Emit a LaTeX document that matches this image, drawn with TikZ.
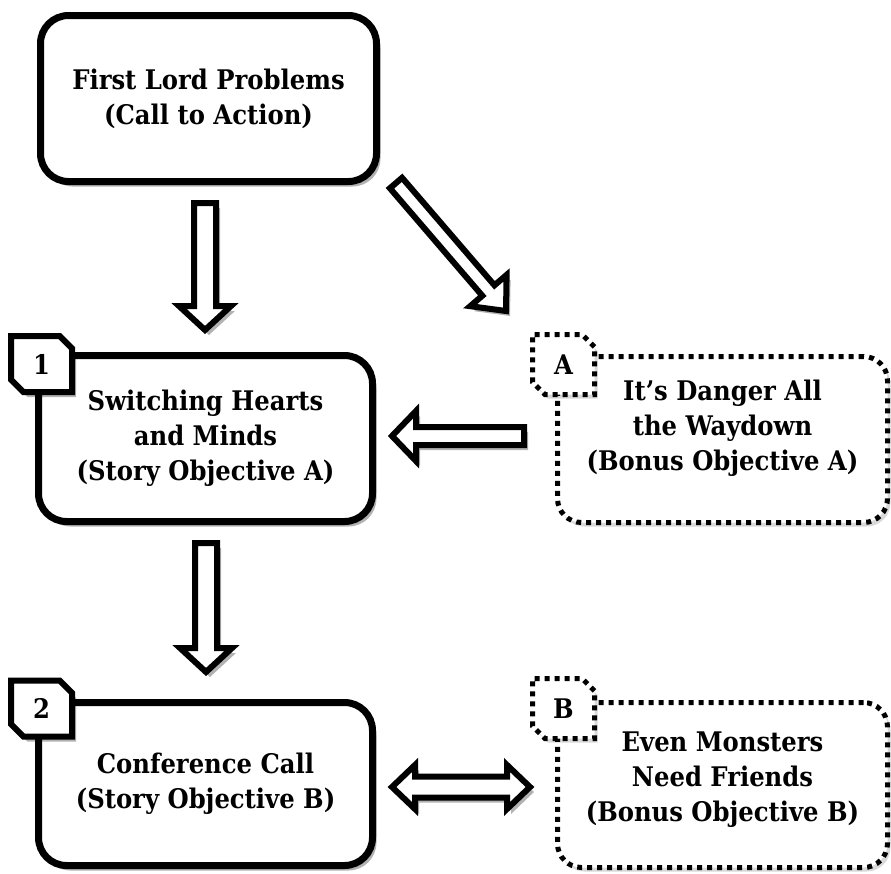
\documentclass[tikz,border=0pt]{standalone}
\usepackage{fontspec}
\setmainfont{DejaVu Serif Condensed}
\usetikzlibrary{shapes.misc,shadows,calc}
\newcommand\blockarrow[5]{%
  \coordinate (h-#1-#2) at ($(#2)!#5!(#1)$);
  \draw[blk] ($(#1)!#3!90:(#2)$) -- ($(h-#1-#2)!#3!90:(#2)$) -- ($(h-#1-#2)!#4!90:(#2)$)
    -- (#2) -- ($(h-#1-#2)!#4!-90:(#2)$) -- ($(h-#1-#2)!#3!-90:(#2)$) -- ($(#1)!#3!-90:(#2)$) -- cycle;}
\newcommand\dblblockarrow[5]{%
  \coordinate (ha-#1-#2) at ($(#1)!#5!(#2)$);
  \coordinate (hb-#1-#2) at ($(#2)!#5!(#1)$);
  \draw[blk] (#1) -- ($(ha-#1-#2)!#4!90:(#2)$) -- ($(ha-#1-#2)!#3!90:(#2)$)
    -- ($(hb-#1-#2)!#3!90:(#2)$) -- ($(hb-#1-#2)!#4!90:(#2)$) -- (#2)
    -- ($(hb-#1-#2)!#4!-90:(#2)$) -- ($(hb-#1-#2)!#3!-90:(#2)$)
    -- ($(ha-#1-#2)!#3!-90:(#2)$) -- ($(ha-#1-#2)!#4!-90:(#2)$) -- cycle;}
\begin{document}
\begin{tikzpicture}[x=1pt,y=-1pt,
  shad/.style={drop shadow={shadow xshift=4pt,shadow yshift=-5pt,opacity=0.3,fill=black}},
  lshad/.style={drop shadow={shadow xshift=3pt,shadow yshift=-4pt,opacity=0.15,fill=black}},
  txt/.style={font=\fontsize{27}{35}\selectfont\bfseries},
  mainbox/.style={draw,line width=7pt,rounded corners=28pt,fill=white,shad,align=center,txt,inner sep=0pt},
  bonusbox/.style={draw,line width=5pt,dash pattern=on 5pt off 5pt,rounded corners=24pt,fill=white,lshad,align=center,txt,inner sep=0pt},
  tagbox/.style={chamfered rectangle,chamfered rectangle corners={north east,south west},
    chamfered rectangle xsep=9pt,draw,line width=6pt,fill=white,minimum width=61pt,minimum height=56pt,
    inner sep=0pt,txt,shad},
  bonustag/.style={chamfered rectangle,chamfered rectangle corners={north east,south west},
    chamfered rectangle xsep=9pt,draw,line width=5pt,dash pattern=on 5pt off 5pt,fill=white,
    minimum width=62pt,minimum height=60pt,inner sep=0pt,txt,lshad},
  blk/.style={draw,line width=6pt,fill=white,line join=miter,shad}
]
\useasboundingbox (0,0) rectangle (891,873);
\node[mainbox,minimum width=336pt,minimum height=166pt] (top) at (208.5,98.5) {First Lord Problems\\(Call to Action)};
\node[mainbox,minimum width=334pt,minimum height=166pt] (box1) at (205.5,438.5) {Switching Hearts\\and Minds\\(Story Objective A)};
\node[mainbox,minimum width=334pt,minimum height=163pt] (box2) at (205.5,784) {Conference Call\\(Story Objective B)};
\node[bonusbox,minimum width=330pt,minimum height=166pt] (boxA) at (722.5,439.5) {It’s Danger All\\the Waydown\\(Bonus Objective A)\\[-6pt]};
\node[bonusbox,minimum width=330pt,minimum height=165pt] (boxB) at (722.5,785) {Even Monsters\\Need Friends\\(Bonus Objective B)\\[-18pt]};
\node[tagbox] (tag1) at (41.5,364) {1};
\node[tagbox] (tag2) at (41.5,708.5) {2};
\node[bonustag] (tagA) at (563.5,364.5) {A};
\node[bonustag] (tagB) at (563.5,708.5) {B};
\coordinate (a1s) at ($(top.south)+(-3.5,18)$);
\coordinate (a1e) at ($(box1.north)+(-0.5,-22)$);
\coordinate (a2s) at ($(box1.south)+(0.5,18)$);
\coordinate (a2e) at ($(box2.north)+(0.5,-27)$);
\coordinate (a3s) at ($(boxA.west)+(-31,-3.5)$);
\coordinate (a3e) at ($(box1.east)+(16,-2.5)$);
\coordinate (a4s) at ($(top.east)+(16,84.5)$);
\coordinate (a4e) at ($(tagA.north)+(-57.5,-21)$);
\coordinate (a5s) at ($(box2.east)+(16,3)$);
\coordinate (a5e) at ($(boxB.west)+(-25,2)$);
\blockarrow{a1s}{a1e}{11pt}{26pt}{24pt}
\blockarrow{a2s}{a2e}{11pt}{26pt}{24pt}
\blockarrow{a3s}{a3e}{9pt}{25pt}{24pt}
\blockarrow{a4s}{a4e}{8pt}{24pt}{27pt}
\dblblockarrow{a5s}{a5e}{10.5pt}{22pt}{23pt}
\end{tikzpicture}
\end{document}
